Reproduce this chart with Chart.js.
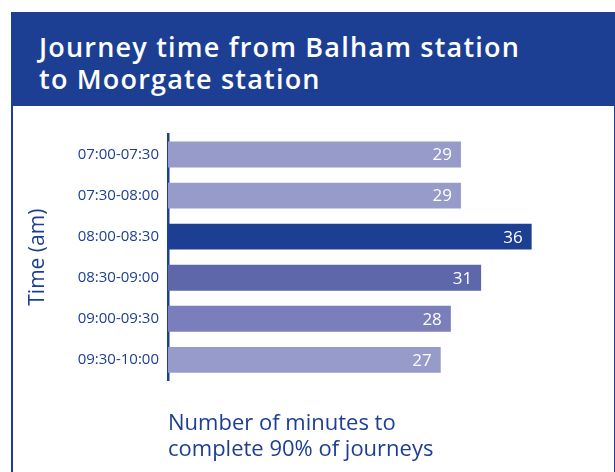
<!DOCTYPE html>
<html>
<head>
<meta charset="utf-8">
<script src="https://cdn.jsdelivr.net/npm/chart.js@4"></script>
<style>
    body { margin: 0; background: #fff; width: 615px; height: 472px; overflow: hidden; font-family: "Open Sans", sans-serif; }
    #panel { position: absolute; left: 11px; top: 12px; width: 601px; height: 470px; border-left: 2px solid #1c3f94; border-right: 2px solid #1c3f94; }
    #header { position: absolute; left: -2px; top: 0; width: 606px; height: 94px; background: #1c3f94; }
    #header h1 { margin: 0; position: absolute; left: 28px; top: 19px; color: #fff; font-size: 27px; line-height: 32px; font-weight: 600; letter-spacing: 1.2px; }
    #chartBox { position: absolute; left: 0; top: 94px; width: 600px; height: 366px; }
</style>
</head>
<body>
<div id="panel">
    <div id="header"><h1>Journey time from Balham station<br>to Moorgate station</h1></div>
    <div id="chartBox"><canvas id="journeyChart" width="600" height="366"></canvas></div>
</div>
<script>
const timeSlots = ['07:00-07:30', '07:30-08:00', '08:00-08:30', '08:30-09:00', '09:00-09:30', '09:30-10:00'];
const minutes = [29, 29, 36, 31, 28, 27];
const barColours = ['#969bc9', '#969bc9', '#1c3f94', '#5d67a9', '#7a7fbb', '#969bc9'];

const navy = '#1c3f94';

// white value labels drawn inside the end of each bar
const valueLabels = {
    id: 'valueLabels',
    afterDatasetsDraw(chart) {
        const ctx = chart.ctx;
        const meta = chart.getDatasetMeta(0);
        ctx.save();
        ctx.fillStyle = '#fff';
        ctx.font = '500 17px "Open Sans"';
        ctx.textAlign = 'right';
        ctx.textBaseline = 'middle';
        meta.data.forEach((bar, i) => {
            ctx.fillText(minutes[i], bar.x - 9, bar.y + 1);
        });
        ctx.restore();
    }
};

const ctx = document.getElementById('journeyChart').getContext('2d');
const journeyChart = new Chart(ctx, {
    type: 'bar',
    data: {
        labels: timeSlots,
        datasets: [{
            data: minutes,
            backgroundColor: barColours,
            borderWidth: 0,
            categoryPercentage: 1,
            barPercentage: 0.63
        }]
    },
    options: {
        indexAxis: 'y',
        responsive: false,
        animation: false,
        layout: {
            padding: { top: 28, right: 45, bottom: 10, left: 0 }
        },
        plugins: {
            legend: { display: false },
            tooltip: { enabled: false }
        },
        scales: {
            x: {
                min: 0,
                max: 39.6,
                grid: { display: false },
                border: { display: false },
                ticks: { display: false },
                title: {
                    display: true,
                    align: 'start',
                    text: ['Number of minutes to', 'complete 90% of journeys'],
                    color: navy,
                    font: { family: 'Open Sans', size: 22, lineHeight: 1.15 },
                    padding: { top: 23, bottom: 0 }
                }
            },
            y: {
                grid: { display: false, drawTicks: false },
                border: { display: true, color: navy, width: 2.5 },
                ticks: {
                    color: navy,
                    padding: 9,
                    font: { family: 'Open Sans', size: 15, weight: '500' }
                },
                title: {
                    display: true,
                    text: 'Time (am)',
                    color: navy,
                    font: { family: 'Open Sans', size: 21 },
                    padding: { top: 12, bottom: 0 }
                },
                afterFit(scale) {
                    scale.width = 155;
                }
            }
        }
    },
    plugins: [valueLabels]
});
</script>
</body>
</html>
